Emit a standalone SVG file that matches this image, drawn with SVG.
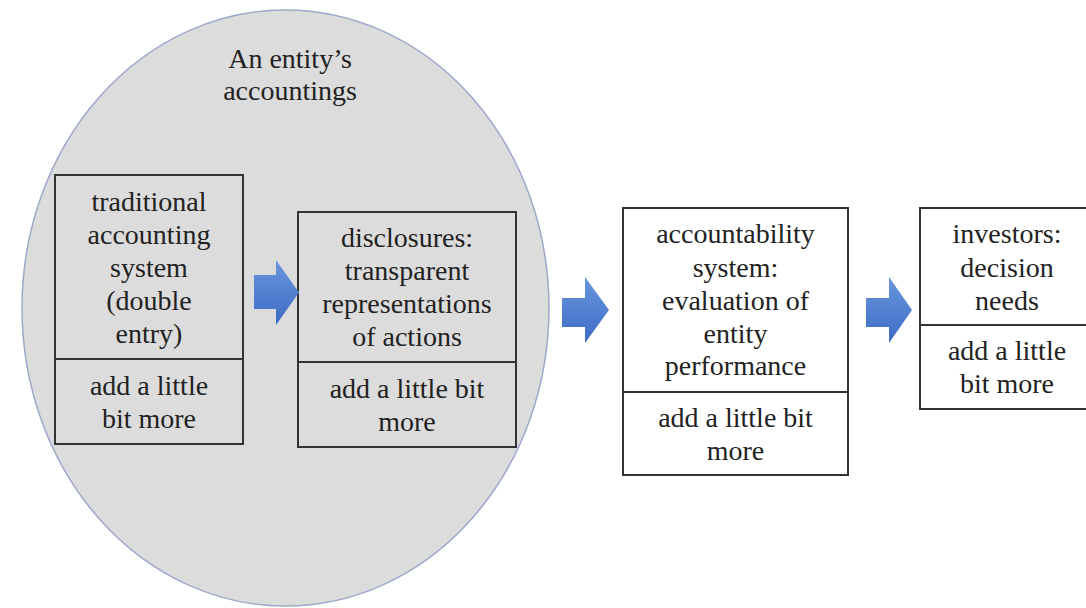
<svg xmlns="http://www.w3.org/2000/svg" width="1086" height="608" viewBox="0 0 1086 608">
<defs>
<linearGradient id="ag" x1="0" y1="0" x2="0" y2="1">
<stop offset="0" stop-color="#6a96de"/>
<stop offset="1" stop-color="#3c6bc4"/>
</linearGradient>
<style>
.box{fill:none;stroke:#333;stroke-width:2}
.wbox{fill:#fff;stroke:#333;stroke-width:2}
.arrow{fill:url(#ag)}
</style>
</defs>
<rect width="1086" height="608" fill="#fff"/>
<g id="entity">
<ellipse cx="285.5" cy="308" rx="263.5" ry="298" fill="#dcdcdc" stroke="#9ea8cc" stroke-width="1.5"/>
<text font-family="Times New Roman" font-size="28" fill="#222" text-anchor="middle" x="290" y="68">An entity&#8217;s</text>
<text font-family="Times New Roman" font-size="28" fill="#222" text-anchor="middle" x="290" y="100">accountings</text>
</g>
<g id="traditional">
<rect class="box" x="55" y="175" width="188" height="269"/>
<line class="box" x1="55" y1="359" x2="243" y2="359"/>
<text font-family="Times New Roman" font-size="28" fill="#222" text-anchor="middle" x="149" y="211">traditional</text>
<text font-family="Times New Roman" font-size="28" fill="#222" text-anchor="middle" x="149" y="244">accounting</text>
<text font-family="Times New Roman" font-size="28" fill="#222" text-anchor="middle" x="149" y="277">system</text>
<text font-family="Times New Roman" font-size="28" fill="#222" text-anchor="middle" x="149" y="310">(double</text>
<text font-family="Times New Roman" font-size="28" fill="#222" text-anchor="middle" x="149" y="343">entry)</text>
<text font-family="Times New Roman" font-size="28" fill="#222" text-anchor="middle" x="149" y="395">add a little</text>
<text font-family="Times New Roman" font-size="28" fill="#222" text-anchor="middle" x="149" y="428">bit more</text>
</g>
<g id="disclosures">
<rect class="box" x="298" y="212" width="218" height="235"/>
<line class="box" x1="298" y1="362" x2="516" y2="362"/>
<text font-family="Times New Roman" font-size="28" fill="#222" text-anchor="middle" x="407" y="247">disclosures:</text>
<text font-family="Times New Roman" font-size="28" fill="#222" text-anchor="middle" x="407" y="280">transparent</text>
<text font-family="Times New Roman" font-size="28" fill="#222" text-anchor="middle" x="407" y="313">representations</text>
<text font-family="Times New Roman" font-size="28" fill="#222" text-anchor="middle" x="407" y="346">of actions</text>
<text font-family="Times New Roman" font-size="28" fill="#222" text-anchor="middle" x="407" y="398">add a little bit</text>
<text font-family="Times New Roman" font-size="28" fill="#222" text-anchor="middle" x="407" y="431">more</text>
</g>
<g id="accountability">
<rect class="wbox" x="623" y="208" width="225" height="267"/>
<line class="box" x1="623" y1="392" x2="848" y2="392"/>
<text font-family="Times New Roman" font-size="28" fill="#222" text-anchor="middle" x="735.5" y="243">accountability</text>
<text font-family="Times New Roman" font-size="28" fill="#222" text-anchor="middle" x="735.5" y="277">system:</text>
<text font-family="Times New Roman" font-size="28" fill="#222" text-anchor="middle" x="735.5" y="310">evaluation of</text>
<text font-family="Times New Roman" font-size="28" fill="#222" text-anchor="middle" x="735.5" y="343">entity</text>
<text font-family="Times New Roman" font-size="28" fill="#222" text-anchor="middle" x="735.5" y="375">performance</text>
<text font-family="Times New Roman" font-size="28" fill="#222" text-anchor="middle" x="735.5" y="427">add a little bit</text>
<text font-family="Times New Roman" font-size="28" fill="#222" text-anchor="middle" x="735.5" y="460">more</text>
</g>
<g id="investors">
<rect class="wbox" x="920" y="208" width="180" height="201"/>
<line class="box" x1="920" y1="325" x2="1100" y2="325"/>
<text font-family="Times New Roman" font-size="28" fill="#222" text-anchor="middle" x="1007" y="243">investors:</text>
<text font-family="Times New Roman" font-size="28" fill="#222" text-anchor="middle" x="1007" y="277">decision</text>
<text font-family="Times New Roman" font-size="28" fill="#222" text-anchor="middle" x="1007" y="310">needs</text>
<text font-family="Times New Roman" font-size="28" fill="#222" text-anchor="middle" x="1007" y="360">add a little</text>
<text font-family="Times New Roman" font-size="28" fill="#222" text-anchor="middle" x="1007" y="393">bit more</text>
</g>
<g id="connectors">
<polygon class="arrow" points="254,275 276,275 276,260 299,292.5 276,325 276,309 254,309"/>
<polygon class="arrow" points="562,298 585,298 585,277 609,310 585,343 585,327 562,327"/>
<polygon class="arrow" points="866,298 889,298 889,277 912,310 889,343 889,327 866,327"/>
</g>
</svg>
